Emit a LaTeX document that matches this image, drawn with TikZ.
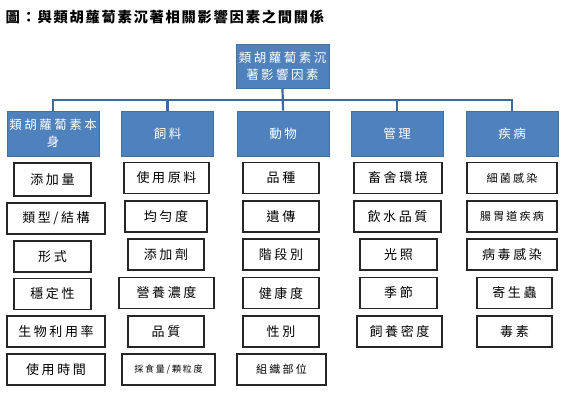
\documentclass[tikz,border=0pt]{standalone}
\usepackage{fontspec}
\usepackage{tikz}
\newfontfamily\cjk[LetterSpace=20]{Noto Sans CJK TC}
\newfontfamily\cjktitle[LetterSpace=12]{Noto Sans CJK TC}
\definecolor{hdrblue}{HTML}{4F81BD}
\definecolor{hdrline}{HTML}{41719C}
\definecolor{busblue}{HTML}{3E6A9B}

\begin{document}
\begin{tikzpicture}[
  x=1pt, y=-1pt,
  font={\cjk\fontsize{13}{17}\selectfont},
  hdr/.style={draw=hdrline, fill=hdrblue, text=white, line width=0.8pt, minimum width=92, minimum height=45, align=center, inner sep=1pt, font={\cjk\fontsize{12.5}{17}\selectfont}},
  leaf/.style={draw=black!85, line width=1.1pt, minimum height=31, inner sep=1pt},
  small/.style={font={\cjk\fontsize{11}{13}\selectfont}},
  tiny/.style={font={\cjk\fontsize{9}{11}\selectfont}},
  bus/.style={draw=busblue, line width=2.2pt}
]
\useasboundingbox (0,0) rectangle (571,402);

\node[anchor=west, font={\cjktitle\bfseries\fontsize{14.3}{16}\selectfont}] (title) at (2,16.5) {圖：與類胡蘿蔔素沉著相關影響因素之間關係};

\node[hdr, minimum width=93, minimum height=44] (root) at (282.5,66) {類胡蘿蔔素沉\\著影響因素};

\node[hdr] (h1) at (53,133.5) {類胡蘿蔔素本\\身};
\node[hdr] (h2) at (167.5,133.5) {飼料};
\node[hdr] (h3) at (283,133.5) {動物};
\node[hdr] (h4) at (397,133.5) {管理};
\node[hdr] (h5) at (512,133.5) {疾病};

\node[leaf, minimum width=77, minimum height=33] (a1) at (52.5,179.5) {添加量};
\node[leaf, minimum width=98] (a2) at (56,218.5) {類型/結構};
\node[leaf, minimum width=77] (a3) at (52.5,256.5) {形式};
\node[leaf, minimum width=77] (a4) at (52.5,294) {穩定性};
\node[leaf, minimum width=98] (a5) at (56,331.5) {生物利用率};
\node[leaf, minimum width=98] (a6) at (56,369.5) {使用時間};

\node[leaf, minimum width=85] (b1) at (166.5,178) {使用原料};
\node[leaf, minimum width=82] (b2) at (166,216.5) {均勻度};
\node[leaf, minimum width=76] (b3) at (166,254.5) {添加劑};
\node[leaf, minimum width=95] (b4) at (166.5,293) {營養濃度};
\node[leaf, minimum width=76] (b5) at (166,331.5) {品質};
\node[leaf, tiny, minimum width=93] (b6) at (168.5,369.5) {採食量/顆粒度};

\node[leaf, minimum width=76] (c1) at (281,178) {品種};
\node[leaf, minimum width=76] (c2) at (281,216.5) {遺傳};
\node[leaf, minimum width=76] (c3) at (281,254.5) {階段別};
\node[leaf, minimum width=76] (c4) at (281,293) {健康度};
\node[leaf, minimum width=76] (c5) at (281,331.5) {性別};
\node[leaf, small, minimum width=89] (c6) at (281.5,369.5) {組織部位};

\node[leaf, minimum width=88] (d1) at (398,178) {畜舍環境};
\node[leaf, minimum width=87] (d2) at (397.5,216.5) {飲水品質};
\node[leaf, minimum width=77] (d3) at (398.5,254.5) {光照};
\node[leaf, minimum width=77] (d4) at (398.5,293) {季節};
\node[leaf, minimum width=85] (d5) at (399.5,331.5) {飼養密度};

\node[leaf, small, minimum width=90] (e1) at (512,178) {細菌感染};
\node[leaf, small, minimum width=90] (e2) at (512,216.5) {腸胃道疾病};
\node[leaf, minimum width=90] (e3) at (512,254.5) {病毒感染};
\node[leaf, minimum width=75] (e4) at (514.5,293) {寄生蟲};
\node[leaf, minimum width=75] (e5) at (514.5,331.5) {毒素};

\draw[bus] (h1.north) -- ++(0,-11) -| (h5.north);
\draw[bus] (h2.north) -- ++(0,-11);
\draw[bus] (h4.north) -- ++(0,-11);
\draw[bus] (root.south) -- (h3.north);
\end{tikzpicture}
\end{document}
